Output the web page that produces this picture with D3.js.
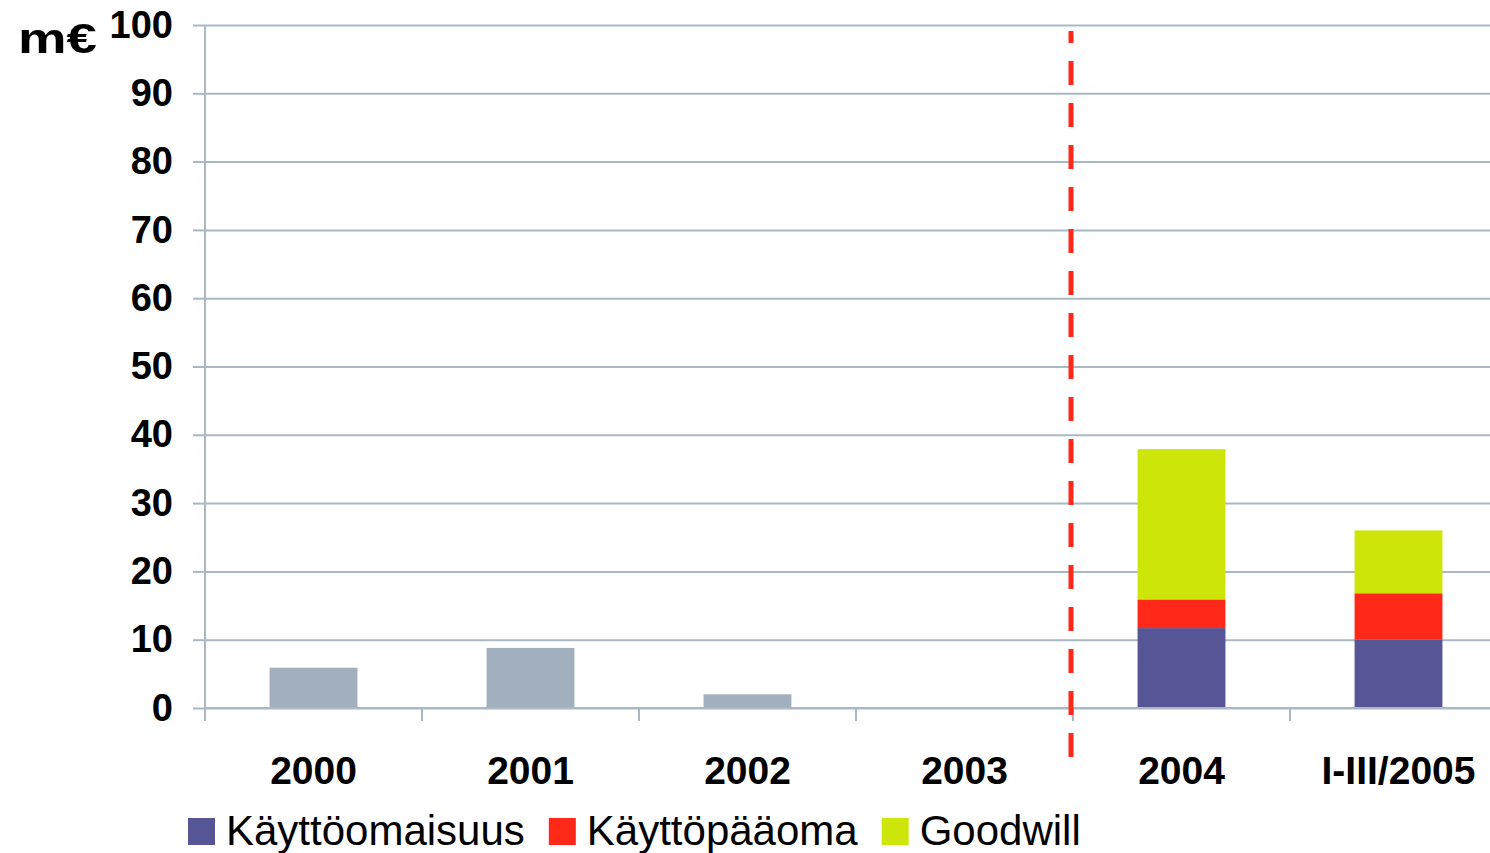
<!DOCTYPE html>
<html>
<head>
<meta charset="utf-8">
<script src="https://cdn.jsdelivr.net/npm/d3@7"></script>
<style>
  html, body { margin: 0; padding: 0; background: #fff; }
  svg { display: block; font-family: "Liberation Sans", Arial, sans-serif; }
</style>
</head>
<body>
<svg id="chart" width="1490" height="853"></svg>
<script>
// ---- data ----
const categories = ["2000", "2001", "2002", "2003", "2004", "I-III/2005"];
const previousTotal = [5.9, 8.8, 2.0, 0, null, null];
const kayttoomaisuus = [null, null, null, null, 11.7, 10.0];
const kayttopaaoma = [null, null, null, null, 4.2, 6.8];
const goodwill = [null, null, null, null, 22.0, 9.2];
const seriesNames = ["Käyttöomaisuus", "Käyttöpääoma", "Goodwill"];
const yTicks = [0, 10, 20, 30, 40, 50, 60, 70, 80, 90, 100];
const unitLabel = "m€";
const dividerBefore = "2004";

// ---- styles ----
const seriesColors = ["#565596", "#FF2819", "#CDE509"];
const grayColor = "#A2B0BD";
const gridColor = "#AAB7C4";

const svg = d3.select("#chart");
const W = 1490;
const plotLeft = 205, plotRight = 1507, plotTop = 25, plotBottom = 708;

const x = d3.scaleBand().domain(categories).range([plotLeft, plotRight]).padding(0);
const y = d3.scaleLinear().domain([0, 100]).range([plotBottom, plotTop]);
const barW = x.bandwidth() * 0.405;

const g = svg.append("g");

// gridlines + y axis
const yAxis = d3.axisLeft(y).tickValues(yTicks).tickSize(12).tickPadding(20).tickFormat(d3.format("d"));
const ya = g.append("g").attr("transform", `translate(${plotLeft},0)`).call(yAxis);
ya.select(".domain").remove();
ya.selectAll(".tick line").attr("stroke", gridColor).attr("stroke-width", 2);
ya.selectAll(".tick text").attr("font-size", 38).attr("font-weight", "bold").attr("fill", "#000")
  .attr("font-family", "'Liberation Sans', Arial, sans-serif");
ya.selectAll(".tick").append("line")
  .attr("x1", 0).attr("x2", W - plotLeft)
  .attr("stroke", gridColor).attr("stroke-width", 2);

// left axis line
g.append("line").attr("x1", plotLeft).attr("x2", plotLeft).attr("y1", y(100)).attr("y2", y(0))
  .attr("stroke", gridColor).attr("stroke-width", 2);

// x category ticks (at band boundaries)
const boundaries = categories.map(c => x(c)).concat([x(categories[categories.length - 1]) + x.bandwidth()]);
g.selectAll(".xtick").data(boundaries).enter().append("line")
  .attr("x1", d => d).attr("x2", d => d).attr("y1", y(0)).attr("y2", y(0) + 13)
  .attr("stroke", gridColor).attr("stroke-width", 2);

// x labels
const xAxis = d3.axisBottom(x).tickSize(0).tickPadding(0);
const xa = g.append("g").attr("transform", `translate(0,${y(0)})`).call(xAxis);
xa.select(".domain").remove();
xa.selectAll(".tick text").attr("font-size", 39).attr("font-weight", "bold").attr("fill", "#000")
  .attr("font-family", "'Liberation Sans', Arial, sans-serif")
  .attr("dy", null).attr("y", 76);

// gray bars
const grayData = categories.map((c, i) => ({ c, v: previousTotal[i] })).filter(d => d.v != null && d.v > 0);
g.selectAll(".gray").data(grayData).enter().append("rect")
  .attr("x", d => x(d.c) + (x.bandwidth() - barW) / 2)
  .attr("width", barW)
  .attr("y", d => y(d.v))
  .attr("height", d => y(0) - y(d.v))
  .attr("fill", grayColor);

// stacked bars
const stackRows = categories.map((c, i) => ({
  c, s0: kayttoomaisuus[i], s1: kayttopaaoma[i], s2: goodwill[i]
})).filter(d => d.s0 != null);
const stack = d3.stack().keys(["s0", "s1", "s2"]);
const layers = stack(stackRows);
layers.forEach((layer, li) => {
  g.selectAll(".l" + li).data(layer).enter().append("rect")
    .attr("x", d => x(d.data.c) + (x.bandwidth() - barW) / 2)
    .attr("width", barW)
    .attr("y", d => y(d[1]))
    .attr("height", d => y(d[0]) - y(d[1]))
    .attr("fill", seriesColors[li]);
});

// baseline
g.append("line").attr("x1", plotLeft).attr("x2", W).attr("y1", y(0)).attr("y2", y(0))
  .attr("stroke", gridColor).attr("stroke-width", 2);

// dashed divider
const dx = x(dividerBefore) - 2;
g.append("line").attr("x1", dx).attr("x2", dx).attr("y1", 31).attr("y2", 757)
  .attr("stroke", "#FF2819").attr("stroke-width", 5)
  .attr("stroke-dasharray", "24,18").attr("stroke-dashoffset", 12);

// unit label
svg.append("text").attr("x", 18).attr("y", 53)
  .attr("font-size", 43).attr("font-weight", "bold").attr("fill", "#000")
  .attr("textLength", 79).attr("lengthAdjust", "spacingAndGlyphs")
  .text(unitLabel);

// legend
let lx = 188;
seriesNames.forEach((name, i) => {
  svg.append("rect").attr("x", lx).attr("y", 818).attr("width", 27).attr("height", 27)
    .attr("fill", seriesColors[i]);
  const t = svg.append("text").attr("x", lx + 38).attr("y", 845)
    .attr("font-size", 42).attr("fill", "#000").text(name);
  lx += 38 + t.node().getComputedTextLength() + 24;
});
</script>
</body>
</html>
